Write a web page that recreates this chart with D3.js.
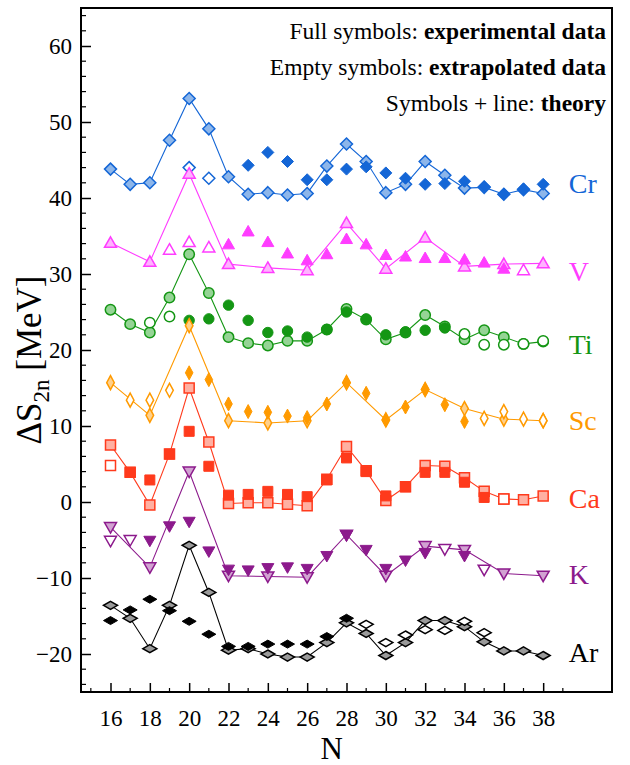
<!DOCTYPE html>
<html lang="en">
<head>
  <meta charset="UTF-8">
  <title>Delta S2n</title>
  <script src="https://d3js.org/d3.v7.min.js"></script>
  <style>
    html, body { margin: 0; padding: 0; background: #fff; overflow: hidden; }
    svg { display: block; }
    svg text { font-family: "Liberation Serif", "Times New Roman", serif; }
    .axis path, .axis line { stroke: #000; }
    .axis text { font-size: 23px; fill: #000; }
  </style>
</head>
<body>
  <svg width="630" height="765"></svg>

  <script>
    const neutrons = [16, 17, 18, 19, 20, 21, 22, 23, 24, 25, 26, 27, 28, 29, 30, 31, 32, 33, 34, 35, 36, 37, 38];
    const xTicks = [16, 18, 20, 22, 24, 26, 28, 30, 32, 34, 36, 38];
    const yTicks = [-20, -10, 0, 10, 20, 30, 40, 50, 60];

    // values per N (16..38), null = no point
    const crTheory = [43.8, 41.8, 42.0, 47.6, 53.1, 49.1, 42.8, 40.5, 40.7, 40.4, 40.6, 44.2, 47.1, 44.8, 40.7, 41.8, 44.8, 43.0, 41.3, 41.4, 40.5, 41.1, 40.6];
    const crExp = [null, null, null, null, null, null, null, 44.3, 46.0, 44.8, 42.4, 42.4, 43.8, 44.1, 43.3, 42.6, 41.8, 41.9, 42.2, 41.5, 40.5, 41.2, 41.8];
    const crExtrap = [null, null, null, null, 44.0, 42.6, null, null, null, null, null, null, null, null, null, null, null, null, null, null, null, null, null];

    const vTheory = [34.1, null, 31.6, null, 43.2, null, 31.3, null, 30.8, null, 30.5, null, 36.7, null, 30.7, null, 34.8, null, 31.0, null, 31.3, null, 31.4];
    const vExp = [null, null, null, null, null, null, 33.9, 35.6, 34.2, 32.7, 31.8, 32.6, 34.6, 33.9, 32.5, 32.3, 32.1, 32.1, 31.9, 31.5, 30.7, null, null];
    const vExtrap = [null, null, null, 33.2, 34.2, 33.5, null, null, null, null, null, null, null, null, null, null, null, null, null, null, null, 30.5, null];

    const tiTheory = [25.3, 23.4, 22.3, 26.9, 32.6, 27.5, 21.7, 20.9, 20.6, 21.2, 21.2, 22.7, 25.4, 24.0, 21.4, 22.3, 24.6, 23.1, 21.4, 22.6, 21.7, 20.8, 21.1];
    const tiExp = [null, null, null, null, 23.9, 24.1, 25.9, 23.9, 22.3, 22.5, 21.7, 22.7, 25.0, 24.1, 22.0, 22.4, 22.6, 22.9, null, null, null, null, null];
    const tiExtrap = [null, null, 23.6, 24.4, null, null, null, null, null, null, null, null, null, null, null, null, null, null, 22.1, 20.7, 20.7, 20.8, 21.2];

    const scTheory = [15.7, null, 11.4, null, 23.2, null, 10.7, null, 10.4, null, 10.7, null, 15.7, null, 10.8, null, 14.8, null, 12.3, null, 10.9, null, 10.7];
    const scExp = [null, null, null, null, 17.0, 16.1, 12.9, 11.9, 11.8, 11.3, 11.1, 12.9, 15.7, 14.3, 10.8, 12.5, 14.8, 12.8, 10.6, null, null, null, null];
    const scExtrap = [null, 13.4, 13.4, 14.7, null, null, null, null, null, null, null, null, null, null, null, null, null, null, null, 11.0, 11.9, 10.9, 10.7];

    const caTheory = [7.5, 3.9, -0.4, 6.3, 15.0, 7.9, -0.2, -0.1, -0.1, -0.3, -0.5, 3.0, 7.3, 4.1, 0.2, 2.0, 4.8, 4.7, 3.2, 1.4, 0.4, 0.3, 0.8];
    const caExp = [null, 3.9, 2.9, 6.3, 9.3, 4.7, 0.9, 1.0, 1.4, 1.0, 0.7, 2.9, 5.8, 4.0, 0.8, 2.0, 3.9, 3.9, 2.6, 0.6, null, null, null];
    const caExtrap = [4.8, null, null, null, null, null, null, null, null, null, null, null, null, null, null, null, null, null, null, null, 0.4, null, null];

    const kTheory = [-3.3, null, -8.6, null, 4.0, null, -9.7, null, -9.8, null, -9.9, null, -4.3, null, -9.7, null, -5.8, null, -6.3, null, -9.4, null, -9.7];
    const kExp = [null, null, -5.1, -3.2, -2.6, -6.5, -8.9, -9.0, -8.7, -8.6, -8.8, -7.1, -4.4, -6.3, -8.8, -7.7, -6.7, null, -7.1, null, null, null, null];
    const kExtrap = [-5.1, -5.0, null, null, null, null, null, null, null, null, null, null, null, null, null, null, null, -6.2, null, -8.9, null, null, null];

    const arTheory = [-13.6, -15.3, -19.3, -13.6, -5.7, -11.9, -19.5, -19.3, -20.0, -20.4, -20.4, -18.5, -15.9, -17.3, -20.2, -18.5, -15.6, -15.6, -16.4, -18.4, -19.6, -19.6, -20.2];
    const arExp = [-15.6, -14.2, -12.8, -14.3, -15.7, -17.4, -19.0, -19.0, -18.7, -18.7, -18.7, -17.7, -15.3, null, null, null, null, null, null, null, null, null, null];
    const arExtrap = [null, null, null, null, null, null, null, null, null, null, null, null, null, -16.1, -18.5, -17.5, -16.8, -16.9, -15.7, -17.2, null, null, null];

    const elements = [
      { name: 'Cr', theory: crTheory, exp: crExp, extrap: crExtrap, color: '#1466d6', light: '#8db6ea', shape: 'diamond', labelY: 41.9 },
      { name: 'V', theory: vTheory, exp: vExp, extrap: vExtrap, color: '#ff3dff', light: '#ffb3ff', shape: 'triUp', labelY: 30.4 },
      { name: 'Ti', theory: tiTheory, exp: tiExp, extrap: tiExtrap, color: '#149614', light: '#95d495', shape: 'circle', labelY: 20.8 },
      { name: 'Sc', theory: scTheory, exp: scExp, extrap: scExtrap, color: '#ff9a00', light: '#ffd08a', shape: 'thinDiamond', labelY: 10.8 },
      { name: 'Ca', theory: caTheory, exp: caExp, extrap: caExtrap, color: '#ff3a1c', light: '#ffb0a2', shape: 'square', labelY: 0.5 },
      { name: 'K', theory: kTheory, exp: kExp, extrap: kExtrap, color: '#8c1a8c', light: '#d2a2d2', shape: 'triDown', labelY: -9.5 },
      { name: 'Ar', theory: arTheory, exp: arExp, extrap: arExtrap, color: '#000000', light: '#9a9a9a', shape: 'flatDiamond', labelY: -19.7 }
    ];

    const margin = { top: 8, right: 18, bottom: 73, left: 81 };
    const width = 630 - margin.left - margin.right;
    const height = 765 - margin.top - margin.bottom;

    const svg = d3.select('svg')
      .append('g')
      .attr('transform', `translate(${margin.left}, ${margin.top})`);

    const x = d3.scaleLinear().domain([14.5, 41.5]).range([0, width]);
    const y = d3.scaleLinear().domain([-25, 65]).range([height, 0]);

    // frame
    svg.append('rect')
      .attr('width', width).attr('height', height)
      .attr('fill', 'none').attr('stroke', '#000').attr('stroke-width', 2);

    // bottom axis (ticks inward)
    const xMinor = d3.range(15, 40, 1).filter(n => n % 2 === 1);
    svg.append('g').attr('transform', `translate(0, ${height})`)
      .selectAll('line.minor').data(xMinor).join('line')
      .attr('x1', d => x(d)).attr('x2', d => x(d))
      .attr('y1', 0).attr('y2', -4).attr('stroke', '#000').attr('stroke-width', 1.2);
    const xAxis = svg.append('g').attr('class', 'axis')
      .attr('transform', `translate(0, ${height})`)
      .call(d3.axisBottom(x).tickValues(xTicks).tickSizeInner(-9).tickSizeOuter(0).tickPadding(18));
    xAxis.attr('font-family', null).attr('font-size', null);
    xAxis.select('.domain').remove();
    xAxis.selectAll('line').attr('stroke-width', 1.5);

    // left axis
    const yMinor = d3.range(-24, 65, 2).filter(v => v % 10 !== 0);
    svg.append('g')
      .selectAll('line.minor').data(yMinor).join('line')
      .attr('x1', 0).attr('x2', 5)
      .attr('y1', d => y(d)).attr('y2', d => y(d)).attr('stroke', '#000').attr('stroke-width', 1.2);
    const yAxis = svg.append('g').attr('class', 'axis')
      .call(d3.axisLeft(y).tickValues(yTicks).tickSizeInner(-10).tickSizeOuter(0).tickPadding(9));
    yAxis.attr('font-family', null).attr('font-size', null);
    yAxis.select('.domain').remove();
    yAxis.selectAll('line').attr('stroke-width', 1.5);

    // axis titles
    svg.append('text')
      .attr('x', x(27.5) - 5).attr('y', height + 67)
      .attr('text-anchor', 'middle').attr('font-size', 31).text('N');

    const yTitle = svg.append('text')
      .attr('transform', `translate(${-40}, ${352}) rotate(-90)`)
      .attr('text-anchor', 'middle').attr('font-size', 35);
    yTitle.append('tspan').text('ΔS');
    yTitle.append('tspan').attr('font-size', 23).attr('dy', 8).text('2n');
    yTitle.append('tspan').attr('dy', -8).text(' [MeV]');

    // marker shapes
    function shapePath(shape) {
      switch (shape) {
        case 'diamond': return 'M0,-6L6,0L0,6L-6,0Z';
        case 'thinDiamond': return 'M0,-7L3.8,0L0,7L-3.8,0Z';
        case 'flatDiamond': return 'M0,-4L7,0L0,4L-7,0Z';
        case 'square': return 'M-5,-5H5V5H-5Z';
        case 'triUp': return 'M0,-6L6,4.5H-6Z';
        case 'triDown': return 'M0,6L6,-4.5H-6Z';
        case 'circle': return 'M5.2,0A5.2,5.2 0 1,1 -5.2,0A5.2,5.2 0 1,1 5.2,0Z';
      }
    }

    function pts(arr) {
      return neutrons.map((n, i) => ({ n, v: arr[i] })).filter(d => d.v !== null);
    }

    const line = d3.line().x(d => x(d.n)).y(d => y(d.v));

    elements.forEach(el => {
      const g = svg.append('g');
      const th = pts(el.theory);

      g.append('path').datum(th)
        .attr('d', line).attr('fill', 'none')
        .attr('stroke', el.color).attr('stroke-width', 1.1);

      g.selectAll('.th').data(th).join('path')
        .attr('class', 'th')
        .attr('transform', d => `translate(${x(d.n)}, ${y(d.v)})`)
        .attr('d', shapePath(el.shape))
        .attr('fill', el.light).attr('stroke', el.color).attr('stroke-width', 1.5);

      g.selectAll('.ex').data(pts(el.exp)).join('path')
        .attr('class', 'ex')
        .attr('transform', d => `translate(${x(d.n)}, ${y(d.v)})`)
        .attr('d', shapePath(el.shape))
        .attr('fill', el.color).attr('stroke', el.color).attr('stroke-width', 1);

      g.selectAll('.xt').data(pts(el.extrap)).join('path')
        .attr('class', 'xt')
        .attr('transform', d => `translate(${x(d.n)}, ${y(d.v)})`)
        .attr('d', shapePath(el.shape))
        .attr('fill', '#fff').attr('stroke', el.color).attr('stroke-width', 1.5);

      g.append('text')
        .attr('x', x(39.3)).attr('y', y(el.labelY))
        .attr('dy', '0.35em')
        .attr('fill', el.color).attr('font-size', 28)
        .text(el.name);
    });

    // notes
    const notes = [
      ['Full symbols: ', 'experimental data'],
      ['Empty symbols: ', 'extrapolated data'],
      ['Symbols + line: ', 'theory']
    ];
    svg.selectAll('.note').data(notes).join('text')
      .attr('class', 'note')
      .attr('x', width - 6).attr('y', (d, i) => 31 + i * 36)
      .attr('text-anchor', 'end').attr('font-size', 23.5)
      .each(function (d) {
        d3.select(this).append('tspan').text(d[0]);
        d3.select(this).append('tspan').attr('font-weight', 'bold').text(d[1]);
      });
  </script>
</body>
</html>
